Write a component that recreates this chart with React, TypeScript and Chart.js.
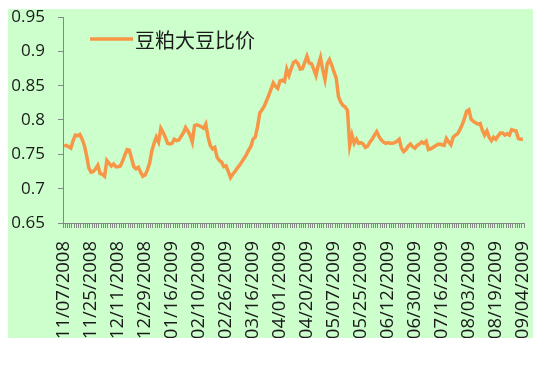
import React, { useEffect, useRef } from 'react';
import { Chart, registerables } from 'chart.js';

Chart.register(...registerables);

const seriesName = '豆粕大豆比价';

const tickLabels = [
  '11/07/2008', '11/25/2008', '12/11/2008', '12/29/2008', '01/16/2009', '02/10/2009',
  '02/26/2009', '03/16/2009', '04/01/2009', '04/20/2009', '05/07/2009', '05/25/2009',
  '06/12/2009', '06/30/2009', '07/16/2009', '08/03/2009', '08/19/2009', '09/04/2009',
];

const labelEvery = 12;

const ratio = [
  0.762, 0.763, 0.761, 0.759, 0.770, 0.778, 0.777, 0.779, 0.772, 0.763,
  0.748, 0.730, 0.724, 0.725, 0.729, 0.734, 0.722, 0.721, 0.718, 0.741,
  0.737, 0.733, 0.736, 0.732, 0.732, 0.733, 0.740, 0.749, 0.757, 0.756,
  0.744, 0.732, 0.729, 0.731, 0.724, 0.718, 0.720, 0.727, 0.737, 0.755,
  0.766, 0.775, 0.768, 0.788, 0.782, 0.775, 0.766, 0.765, 0.766, 0.772,
  0.770, 0.771, 0.776, 0.781, 0.789, 0.784, 0.778, 0.768, 0.792, 0.793,
  0.792, 0.790, 0.788, 0.794, 0.775, 0.763, 0.758, 0.760, 0.746, 0.741,
  0.739, 0.732, 0.733, 0.725, 0.716, 0.721, 0.725, 0.730, 0.734, 0.739,
  0.744, 0.749, 0.756, 0.761, 0.772, 0.775, 0.790, 0.810, 0.815, 0.820,
  0.828, 0.836, 0.845, 0.854, 0.849, 0.846, 0.857, 0.858, 0.856, 0.874,
  0.865, 0.875, 0.884, 0.886, 0.882, 0.874, 0.875, 0.884, 0.893, 0.883,
  0.882, 0.874, 0.865, 0.880, 0.891, 0.873, 0.859, 0.882, 0.888, 0.880,
  0.870, 0.861, 0.834, 0.826, 0.821, 0.819, 0.814, 0.763, 0.778, 0.766,
  0.772, 0.766, 0.767, 0.765, 0.760, 0.762, 0.768, 0.772, 0.778, 0.783,
  0.776, 0.771, 0.768, 0.766, 0.767, 0.766, 0.766, 0.767, 0.769, 0.772,
  0.759, 0.754, 0.757, 0.762, 0.765, 0.761, 0.759, 0.763, 0.765, 0.768,
  0.766, 0.769, 0.757, 0.758, 0.760, 0.762, 0.764, 0.765, 0.764, 0.763,
  0.773, 0.768, 0.764, 0.775, 0.778, 0.780, 0.786, 0.793, 0.802, 0.813,
  0.815, 0.801, 0.798, 0.796, 0.794, 0.795, 0.785, 0.778, 0.784, 0.775,
  0.770, 0.775, 0.772, 0.777, 0.781, 0.781, 0.778, 0.780, 0.778, 0.786,
  0.785, 0.784, 0.773, 0.772, 0.772,
];

const yMin = 0.65;
const yMax = 0.95;
const yStep = 0.05;

const LINE_COLOR = '#F79646';
const AXIS_COLOR = '#868686';
const TEXT_COLOR = '#1a1a1a';
const BG_COLOR = '#CCFFCC';

const insideLegend = {
  id: 'insideLegend',
  afterDatasetsDraw(chart: any) {
    const { ctx, chartArea } = chart;
    const x0 = chartArea.left + 27;
    const y0 = chartArea.top + 22;
    ctx.save();
    ctx.strokeStyle = LINE_COLOR;
    ctx.lineWidth = 3.5;
    ctx.beginPath();
    ctx.moveTo(x0, y0);
    ctx.lineTo(x0 + 43, y0);
    ctx.stroke();
    ctx.fillStyle = TEXT_COLOR;
    ctx.font = '20px "Noto Sans CJK SC"';
    ctx.textBaseline = 'middle';
    ctx.textAlign = 'left';
    ctx.fillText(chart.data.datasets[0].label, x0 + 45, y0 + 1);
    ctx.restore();
  },
};

export default function App() {
  const canvasRef = useRef<HTMLCanvasElement | null>(null);

  useEffect(() => {
    if (!canvasRef.current) return;
    const labels = ratio.map((_, i) => (i % labelEvery === 0 ? tickLabels[i / labelEvery] : ''));
    const chart = new Chart(canvasRef.current, {
      type: 'line',
      data: {
        labels,
        datasets: [
          {
            label: seriesName,
            data: ratio,
            borderColor: LINE_COLOR,
            backgroundColor: LINE_COLOR,
            borderWidth: 3.5,
            pointRadius: 0,
            tension: 0,
            fill: false,
          },
        ],
      },
      options: {
        responsive: false,
        animation: false,
        devicePixelRatio: 1,
        layout: { padding: { left: 0, top: 8, right: 9, bottom: 0 } },
        plugins: {
          legend: { display: false },
          tooltip: { enabled: false },
        },
        scales: {
          x: {
            type: 'category',
            offset: true,
            grid: {
              display: true,
              offset: true,
              drawOnChartArea: false,
              drawTicks: true,
              tickLength: 5,
              color: AXIS_COLOR,
            },
            border: { display: true, color: AXIS_COLOR, width: 1 },
            ticks: {
              autoSkip: false,
              maxRotation: 90,
              minRotation: 90,
              padding: 13,
              color: TEXT_COLOR,
              font: { family: '"Open Sans"', size: 18.5 },
              callback: (_v: any, i: number) => labels[i],
            },
            afterFit: (scale: any) => {
              scale.height = 115;
              scale.paddingLeft = 0;
              scale.paddingRight = 0;
              scale.paddingTop = 0;
              scale.paddingBottom = 0;
            },
          },
          y: {
            min: yMin,
            max: yMax,
            grid: {
              display: true,
              drawOnChartArea: false,
              drawTicks: true,
              tickLength: 5,
              color: AXIS_COLOR,
            },
            border: { display: true, color: AXIS_COLOR, width: 1 },
            ticks: {
              stepSize: yStep,
              padding: 13,
              color: TEXT_COLOR,
              font: { family: '"Open Sans"', size: 17 },
              callback: (v: any) => String(Number(Number(v).toFixed(2))),
            },
            afterFit: (scale: any) => {
              scale.width = 55;
              scale.paddingTop = 0;
              scale.paddingBottom = 0;
              scale.paddingLeft = 0;
              scale.paddingRight = 0;
            },
          },
        },
      },
      plugins: [insideLegend],
    });
    return () => chart.destroy();
  }, []);

  return (
    <div style={{ width: 525, height: 329, marginTop: 1, background: BG_COLOR }}>
      <canvas ref={canvasRef} width={525} height={329} style={{ display: 'block' }} />
    </div>
  );
}
